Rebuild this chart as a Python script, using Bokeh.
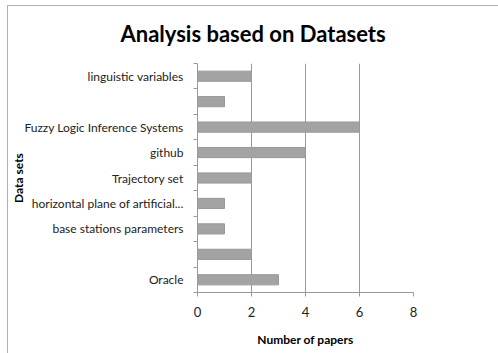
from bokeh.plotting import figure
from bokeh.models import FixedTicker, ColumnDataSource
from bokeh.embed import file_html
from bokeh.resources import INLINE

# Datasets listed top to bottom, with the number of papers using each
datasets = ["linguistic variables", "", "Fuzzy Logic Inference Systems", "github",
            "Trajectory set", "horizontal plane of artificial...",
            "base stations parameters", "", "Oracle"]
papers = [2, 1, 6, 4, 2, 1, 1, 2, 3]
x_ticks = [0, 2, 4, 6, 8]

n = len(datasets)
pos = [n - i for i in range(n)]  # top row gets the highest position
src = ColumnDataSource(dict(y=pos, papers=papers, name=datasets))

FONT = "Lato"
GRID = "#9a9a9a"
EDGE = "#b0b0b0"

# thin chart-area edge along the top and left, painted behind a transparent border
edge_bg = (f"linear-gradient({EDGE},{EDGE}) 7px 5px / 100% 1px no-repeat, "
           f"linear-gradient({EDGE},{EDGE}) 7px 5px / 1px 100% no-repeat, #ffffff")

p = figure(width=498, height=353, x_range=(0, 8), y_range=(0.5, n + 0.5),
           output_backend="svg", toolbar_location=None,
           min_border_left=197, min_border_right=85, min_border_top=63,
           min_border_bottom=61, styles={"background": edge_bg})
p.border_fill_color = None

p.title.text = "Analysis based on Datasets"
p.title.align = "left"
p.title.offset = -77
p.title.text_font = FONT
p.title.text_font_size = "22px"
p.title.text_font_style = "bold"
p.title.text_color = "#000000"
p.title.standoff = 34

p.hbar(y="y", right="papers", left=0, height=0.4, source=src,
       fill_color="#a3a3a3", line_color="#999999", line_width=1)

p.outline_line_color = None
p.ygrid.grid_line_color = None
p.xgrid.grid_line_color = GRID
p.xgrid.ticker = FixedTicker(ticks=x_ticks)

# x axis
p.xaxis.ticker = FixedTicker(ticks=x_ticks)
p.xaxis.axis_label = "Number of papers"
p.xaxis.axis_label_text_font = FONT
p.xaxis.axis_label_text_font_style = "bold"
p.xaxis.axis_label_text_font_size = "12px"
p.xaxis.axis_label_text_color = "#000000"
p.xaxis.axis_label_standoff = 12
p.xaxis.axis_line_color = GRID
p.xaxis.major_tick_line_color = GRID
p.xaxis.major_tick_in = 0
p.xaxis.major_tick_out = 4
p.xaxis.minor_tick_line_color = None
p.xaxis.major_label_text_font = FONT
p.xaxis.major_label_text_font_size = "13px"
p.xaxis.major_label_text_color = "#222222"
p.xaxis.major_label_standoff = 10

# y axis: labels centred on bars, tick marks between categories
p.yaxis.ticker = FixedTicker(ticks=pos, minor_ticks=[k + 0.5 for k in range(n + 1)])
p.yaxis.major_label_overrides = {pos[i]: datasets[i] for i in range(n)}
p.yaxis.axis_label = "Data sets"
p.yaxis.axis_label_text_font = FONT
p.yaxis.axis_label_text_font_style = "bold"
p.yaxis.axis_label_text_font_size = "12px"
p.yaxis.axis_label_text_color = "#000000"
p.yaxis.axis_label_standoff = -5
p.yaxis.axis_line_color = GRID
p.yaxis.major_tick_line_color = None
p.yaxis.major_tick_in = 0
p.yaxis.major_tick_out = 4
p.yaxis.minor_tick_line_color = GRID
p.yaxis.minor_tick_in = 0
p.yaxis.minor_tick_out = 4
p.yaxis.major_label_text_font = FONT
p.yaxis.major_label_text_font_size = "12px"
p.yaxis.major_label_text_color = "#222222"
p.yaxis.major_label_standoff = 10

open("out.html", "w").write(file_html(p, INLINE))
